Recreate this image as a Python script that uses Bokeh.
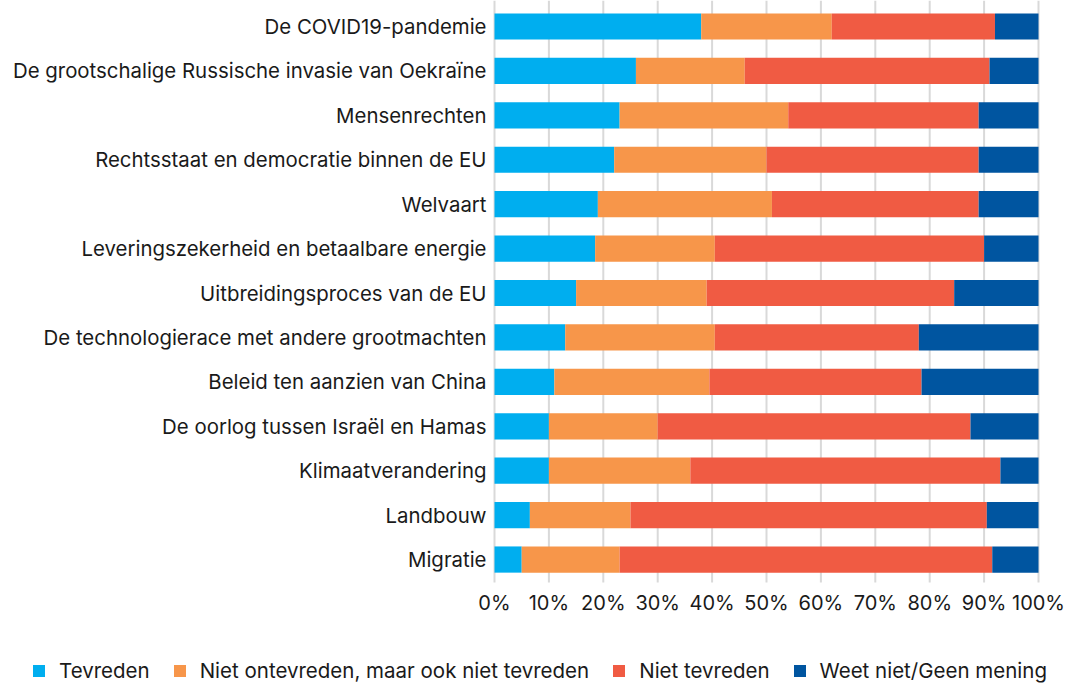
from bokeh.plotting import figure
from bokeh.models import ColumnDataSource, Range1d, Legend, LegendItem
from bokeh.core.properties import value
from bokeh.embed import file_html
from bokeh.resources import INLINE

categories = [
    "De COVID19-pandemie",
    "De grootschalige Russische invasie van Oekraïne",
    "Mensenrechten",
    "Rechtsstaat en democratie binnen de EU",
    "Welvaart",
    "Leveringszekerheid en betaalbare energie",
    "Uitbreidingsproces van de EU",
    "De technologierace met andere grootmachten",
    "Beleid ten aanzien van China",
    "De oorlog tussen Israël en Hamas",
    "Klimaatverandering",
    "Landbouw",
    "Migratie",
]
tevreden = [38, 26, 23, 22, 19, 18.5, 15, 13, 11, 10, 10, 6.5, 5]
neutraal = [24, 20, 31, 28, 32, 22, 24, 27.5, 28.5, 20, 26, 18.5, 18]
niet_tevreden = [30, 45, 35, 39, 38, 49.5, 45.5, 37.5, 39, 57.5, 57, 65.5, 68.5]
weet_niet = [8, 9, 11, 11, 11, 10, 15.5, 22, 21.5, 12.5, 7, 9.5, 8.5]
series_names = ["Tevreden", "Niet ontevreden, maar ook niet tevreden", "Niet tevreden", "Weet niet/Geen mening"]
series_keys = ["tevreden", "neutraal", "niet_tevreden", "weet_niet"]
colors = ["#00AEEF", "#F7964A", "#F05B43", "#0055A0"]
x_ticks = [0, 10, 20, 30, 40, 50, 60, 70, 80, 90, 100]
x_tick_labels = ["0%", "10%", "20%", "30%", "40%", "50%", "60%", "70%", "80%", "90%", "100%"]

# ---- layout constants (pixels) ----
W, H = 1066, 687
PLOT_LEFT, PLOT_RIGHT = 494, 1038      # where 0% and 100% sit
ROW_TOP, ROW_STEP = 26, 44.42          # centre of first row, row spacing
px_per_x = (PLOT_RIGHT - PLOT_LEFT) / 100.0
n = len(categories)
top_val = (n - 1) + ROW_TOP / ROW_STEP
bot_val = top_val - H / ROW_STEP

def ypx(px):
    return top_val - px / ROW_STEP

ypos = [n - 1 - i for i in range(n)]    # first category on top

source = ColumnDataSource(dict(
    y=ypos, cat=categories,
    tevreden=tevreden, neutraal=neutraal,
    niet_tevreden=niet_tevreden, weet_niet=weet_niet,
))

FONT = "Inter"
TXT = "#1A1A1A"
GRID = "#D9D9D9"

p = figure(
    width=W, height=H,
    x_range=Range1d(-PLOT_LEFT / px_per_x, (W - PLOT_LEFT) / px_per_x),
    y_range=Range1d(bot_val, top_val),
    output_backend="svg", toolbar_location=None,
    min_border_left=0, min_border_right=0, min_border_top=0, min_border_bottom=0,
    x_axis_location=None, y_axis_location=None,
)
p.outline_line_color = None
p.grid.visible = False
p.background_fill_color = "white"

# vertical grid lines (continue slightly below the last bar like tick marks)
grid_src = ColumnDataSource(dict(
    x=x_ticks,
    y0=[ypx(582)] * len(x_ticks),
    y1=[top_val] * len(x_ticks),
    lab=x_tick_labels,
    ly=[ypx(602)] * len(x_ticks),
))
p.segment(x0="x", y0="y0", x1="x", y1="y1", source=grid_src,
          line_color=GRID, line_width=2)

renderers = p.hbar_stack(series_keys, y="y", height=0.59, source=source,
                         color=colors, line_color=None)

# x tick labels
p.text(x="x", y="ly", text="lab", source=grid_src,
       text_font=value(FONT), text_font_size=value("20px"), text_color=TXT,
       text_align="center", text_baseline="middle")

# category labels
source.data["lx"] = [-8 / px_per_x] * n
p.text(x="lx", y="y", text="cat", source=source,
       text_font=value(FONT), text_font_size=value("20.4px"), text_color=TXT,
       text_align="right", text_baseline="middle")

legend = Legend(
    items=[LegendItem(label=nm, renderers=[r]) for nm, r in zip(series_names, renderers)],
    orientation="horizontal",
    location=(31, 4),
    border_line_color=None,
    background_fill_alpha=0,
    glyph_width=15, glyph_height=15, label_height=20,
    label_text_font=FONT, label_text_font_size="20.5px", label_text_color=TXT,
    label_standoff=13, spacing=22, padding=0, margin=0,
)
p.add_layout(legend, "center")

open("out.html", "w").write(file_html(p, INLINE))
